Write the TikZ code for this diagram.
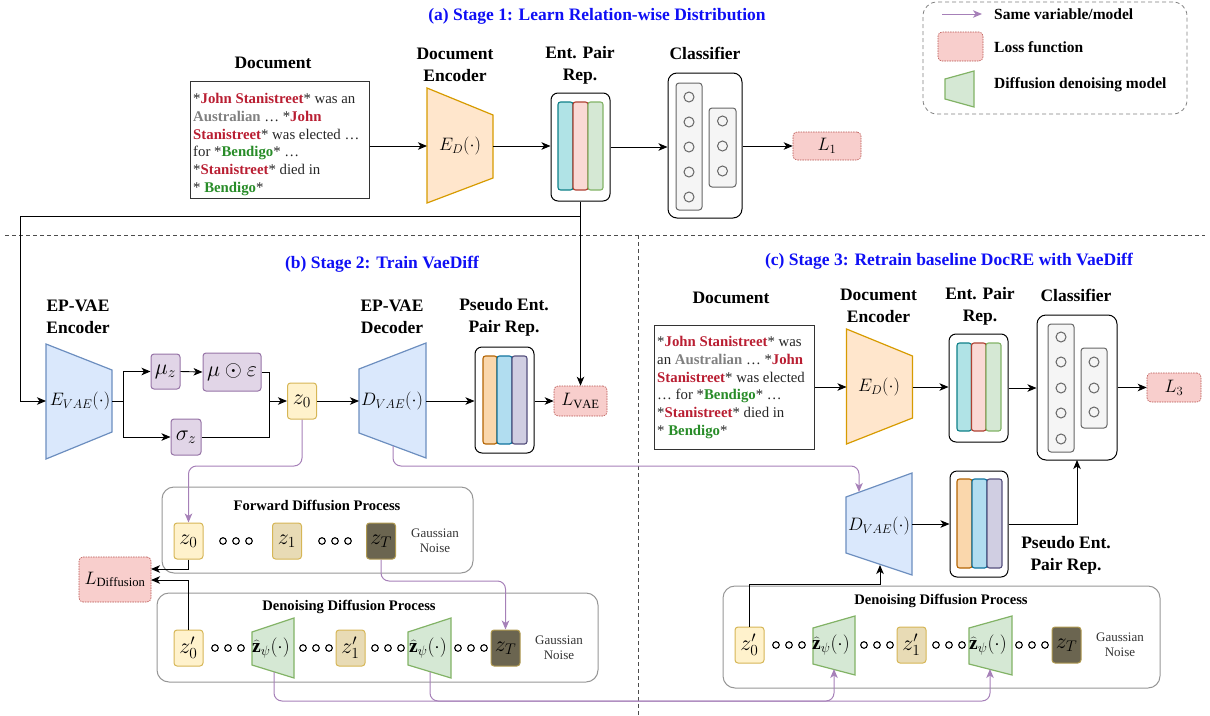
\RequirePackage{fix-cm}
\documentclass[tikz,border=0pt]{standalone}
\usepackage{fontspec}
\setmainfont{Liberation Serif}
\usetikzlibrary{arrows.meta,calc}
\definecolor{ttlblue}{RGB}{15,15,245}
\definecolor{nmred}{RGB}{185,30,50}
\definecolor{nmgray}{RGB}{128,128,128}
\definecolor{nmgreen}{RGB}{40,140,40}
\definecolor{orF}{HTML}{FFE6CC}\definecolor{orS}{HTML}{D79B00}
\definecolor{blF}{HTML}{DAE8FC}\definecolor{blS}{HTML}{6C8EBF}
\definecolor{grF}{HTML}{D5E8D4}\definecolor{grS}{HTML}{82B366}
\definecolor{puF}{HTML}{E1D5E7}\definecolor{puS}{HTML}{9673A6}
\definecolor{yeF}{HTML}{FFF2CC}\definecolor{yeS}{HTML}{D6B656}
\definecolor{taF}{HTML}{E8DBB5}
\definecolor{dkF}{HTML}{6B6550}\definecolor{dkS}{HTML}{B09A50}
\definecolor{lsF}{HTML}{F8CECC}\definecolor{lsS}{HTML}{B85450}
\definecolor{cyF}{HTML}{B0E3E6}\definecolor{cyS}{HTML}{0E8088}
\definecolor{rdF}{HTML}{FAD9D5}\definecolor{rdS}{HTML}{AE4132}
\definecolor{pOF}{HTML}{FAD7AC}\definecolor{pOS}{HTML}{B46504}
\definecolor{pBF}{HTML}{B1DDF0}\definecolor{pBS}{HTML}{10739E}
\definecolor{pPF}{HTML}{D0CEE2}\definecolor{pPS}{HTML}{56517E}
\definecolor{conn}{HTML}{A680B8}
\definecolor{clsF}{HTML}{F5F5F5}\definecolor{clsS}{HTML}{666666}
\definecolor{procS}{RGB}{150,150,150}
\newcommand{\jsR}[1]{\textbf{\textcolor{nmred}{#1}}}
\newcommand{\auG}[1]{\textbf{\textcolor{nmgray}{#1}}}
\newcommand{\bgG}[1]{\textbf{\textcolor{nmgreen}{#1}}}
\tikzset{
 arr/.style={draw=black,line width=0.9pt,-{Stealth[length=9pt,width=7.5pt,inset=2.5pt]}},
 ln/.style={draw=black,line width=0.9pt},
 parr/.style={draw=conn,line width=1pt,rounded corners=8pt,-{Stealth[length=9pt,width=7.5pt,inset=2.5pt]}},
 hdr/.style={font=\fontsize{17.5}{22}\selectfont\bfseries,align=center,inner sep=0pt},
 stg/.style={font=\fontsize{17.5}{20}\selectfont\bfseries,text=ttlblue,inner sep=0pt},
 mth/.style={font=\fontsize{18}{20}\selectfont,inner sep=0pt},
 zpl/.style={font=\fontsize{19.5}{21}\selectfont,inner sep=0pt},
 sbox/.style={rounded corners=3pt,line width=1pt,inner sep=0pt,font=\fontsize{22}{24}\selectfont},
 zbox/.style={sbox,draw=yeS,fill=yeF,minimum width=29pt,minimum height=36pt},
 z1box/.style={sbox,draw=yeS,fill=taF,minimum width=29pt,minimum height=36pt},
 zTbox/.style={sbox,draw=dkS,fill=dkF,minimum width=29pt,minimum height=36pt},
 pbox/.style={sbox,draw=puS,fill=puF},
 lbox/.style={sbox,font=\fontsize{18}{20}\selectfont,draw=lsS,fill=lsF,line width=0.6pt,dash pattern=on 1.5pt off 1pt,rounded corners=4pt},
 cont/.style={draw=black,line width=1pt,rounded corners=7pt,inner sep=0pt},
 bar/.style={line width=1.1pt,rounded corners=2.5pt},
 col/.style={draw=clsS,fill=clsF,line width=1pt,rounded corners=3pt},
 neu/.style={draw=clsS,line width=1pt},
 encO/.style={draw=orS,fill=orF,line width=1.2pt},
 encB/.style={draw=blS,fill=blF,line width=1.2pt},
 encG/.style={draw=grS,fill=grF,line width=1.2pt},
 proc/.style={draw=procS,line width=1pt,rounded corners=12pt,inner sep=0pt},
 ptl/.style={font=\fontsize{14.6}{16}\selectfont\bfseries,inner sep=0pt},
 gn/.style={font=\fontsize{13}{14.5}\selectfont,align=center,inner sep=0pt,text=black!80},
 doctext/.style={font=\fontsize{14.8}{17.8}\selectfont,align=left,inner sep=0pt,text=black!85},
 docbox/.style={draw=black!80,line width=1pt,inner sep=0pt},
 lgt/.style={font=\fontsize{15.5}{18}\selectfont\bfseries,inner sep=0pt,anchor=west},
 sepl/.style={draw=black!70,line width=0.9pt,dash pattern=on 4pt off 3pt},
 ooo/.pic={\foreach \q in {-13,0,13}{\draw[line width=1.1pt] (\q,0) circle[radius=3.3pt];}}
}
\begin{document}
\begin{tikzpicture}[x=1pt,y=-1pt]
\useasboundingbox (0,0) rectangle (1210,715);

% ---------- separators ----------
\draw[sepl] (5,235) -- (1205,235);
\draw[sepl] (638,235) -- (638,715);

% ---------- legend ----------
\node[draw=black!50,line width=0.8pt,dash pattern=on 4pt off 3pt,rounded corners=14pt,minimum width=264pt,minimum height=112pt,inner sep=0pt] (leg) at (1055,58) {};
\coordinate (lgA) at (942,14); \coordinate (lgB) at (982,14);
\draw[parr] (lgA) -- (lgB);
\node[lgt] (lg1) at (994,14) {Same variable/model};
\node[lbox,minimum width=45pt,minimum height=29pt] (lgL) at (960.5,46.5) {};
\node[lgt] (lg2) at (994,47) {Loss function};
\draw[encG] (945,79) -- (974,71) -- (974,107) -- (945,99) -- cycle;
\node[lgt] (lg3) at (994,85) {Diffusion denoising model};

% ---------- Stage 1 ----------
\node[stg] (st1) at (597,16) {(a) Stage 1: Learn Relation-wise Distribution};
\node[hdr] (h1doc) at (273,63) {Document};
\node[hdr] (h1enc) at (455,65) {Document\\Encoder};
\node[hdr] (h1ep) at (580,65) {Ent. Pair\\Rep.};
\node[hdr] (h1cls) at (705,53) {Classifier};

\node[docbox,minimum width=179pt,minimum height=117pt] (doc1) at (279.5,139.5) {};
\node[doctext,anchor=north west] (doc1t) at (193,93) {*\jsR{John Stanistreet}* was an\\
\auG{Australian} … *\jsR{John}\\
\jsR{Stanistreet}* was elected …\\
for *\bgG{Bendigo}* …\\
*\jsR{Stanistreet}* died in\\
* \bgG{Bendigo}*};

\draw[encO] (427,88) -- (493,115) -- (493,178) -- (427,203) -- cycle;
\node[mth] (enc1) at (460,146) {$E_D(\cdot)$};
\coordinate (enc1L) at (427,146); \coordinate (enc1R) at (493,146);

\node[cont,minimum width=59pt,minimum height=108pt] (ep1) at (580.5,147) {};
\draw[bar,draw=cyS,fill=cyF] (558,102) rectangle (573,190);
\draw[bar,draw=rdS,fill=rdF] (573,102) rectangle (588,190);
\draw[bar,draw=grS,fill=grF] (588,102) rectangle (603,190);

\node[cont,rounded corners=9pt,minimum width=74pt,minimum height=145pt] (cls1) at (705,145.5) {};
\draw[col] (676,83) rectangle (702,210);
\draw[col] (709,108) rectangle (736,187);
\foreach \yy in {97,122,147,172,197} \draw[neu] (689,\yy) circle[radius=5pt];
\foreach \yy in {121,146,171} \draw[neu] (722.5,\yy) circle[radius=5pt];

\node[lbox,minimum width=68pt,minimum height=28pt] (L1) at (827,146) {$L_1$};

\draw[arr] (doc1.east |- enc1L) -- (enc1L);
\draw[arr] (enc1R) -- (ep1.west |- enc1R);
\draw[arr] (ep1.east) -- (cls1.west |- ep1.east);
\draw[arr] (cls1.east |- L1.west) -- (L1.west);

% ---------- Stage 2 ----------
\node[stg] (st2) at (382,264) {(b) Stage 2: Train VaeDiff};
\node[hdr] (h2enc) at (78,317) {EP-VAE\\Encoder};
\node[hdr] (h2dec) at (392,317) {EP-VAE\\Decoder};
\node[hdr] (h2ps) at (504,317) {Pseudo Ent.\\Pair Rep.};

\draw[encB] (46,344) -- (112,370) -- (112,432) -- (46,459) -- cycle;
\node[mth] (encV) at (80,401) {$E_{VAE}(\cdot)$};
\coordinate (encVL) at (46,401); \coordinate (encVR) at (112,401);

\node[pbox,minimum width=29pt,minimum height=35pt] (mu) at (165.5,371.5) {$\mu_z$};
\node[pbox,minimum width=58pt,minimum height=38pt] (mue) at (232,372) {$\mu\odot\varepsilon$};
\node[pbox,minimum width=30pt,minimum height=36pt] (sig) at (186,437) {$\sigma_z$};
\node[zbox] (z0) at (302,401) {$z_0$};

\draw[encB] (359,369) -- (426,343) -- (426,458) -- (359,433) -- cycle;
\node[mth] (decV) at (392,401) {$D_{VAE}(\cdot)$};
\coordinate (decVL) at (359,401); \coordinate (decVR) at (426,401);
\coordinate (decVB) at (393,446);

\node[cont,minimum width=59pt,minimum height=106pt] (ps2) at (504.5,400) {};
\draw[bar,draw=pOS,fill=pOF] (483,356) rectangle (497,444);
\draw[bar,draw=pBS,fill=pBF] (497,356) rectangle (512,444);
\draw[bar,draw=pPS,fill=pPF] (512,356) rectangle (527,444);

\node[lbox,minimum width=53pt,minimum height=30pt] (LVAE) at (580.5,401) {$L_{\mathrm{VAE}}$};

% stage 1 -> stage 2 feed
\coordinate (br) at (580.5,216); \coordinate (tl) at (20,216);
\draw[ln] (ep1.south) -- (br);
\draw[arr] (br) -- (LVAE.north);
\draw[arr] (br) -- (tl) |- (encVL);

\coordinate (sp) at (123,401); \coordinate (jn) at (269,401);
\draw[ln] (encVR) -- (sp);
\draw[arr] (sp) |- (mu.west);
\draw[arr] (sp) |- (sig.west);
\draw[arr] (mu.east) -- (mue.west);
\draw[ln] (mue.east) -| (jn);
\draw[ln] (sig.east) -| (jn);
\draw[arr] (jn) -- (z0.west);
\draw[arr] (z0.east) -- (decVL);
\draw[arr] (decVR) -- (ps2.west |- decVR);
\draw[arr] (ps2.east |- LVAE.west) -- (LVAE.west);

% forward diffusion
\node[proc,minimum width=311pt,minimum height=86pt] (fwd) at (317.5,530) {};
\node[ptl] (fwdt) at (317,505) {Forward Diffusion Process};
\node[zbox] (fz0) at (188.5,541) {$z_0$};
\pic at (236,541) {ooo};
\node[z1box] (fz1) at (287,541) {$z_1$};
\pic at (335,541) {ooo};
\node[zTbox] (fzT) at (381,541) {$z_T$};
\node[gn] (fgn) at (435,541) {Gaussian\\Noise};

\node[lbox,minimum width=72pt,minimum height=45pt] (LD) at (115,579.5) {$L_{\mathrm{Diffusion}}$};

% denoising stage 2
\node[proc,minimum width=441pt,minimum height=89pt] (den2) at (377.5,637.5) {};
\node[ptl] (den2t) at (349,607) {Denoising Diffusion Process};
\node[zbox] (dz0) at (188.5,648) {$z'_0$};
\pic at (228,648) {ooo};
\draw[encG] (252,632) -- (294,618) -- (294,678) -- (252,665) -- cycle;
\node[zpl] (zp1) at (271,648) {$\widehat{\mathbf{z}}_\psi(\cdot)$};
\pic at (316,648) {ooo};
\node[z1box] (dz1) at (350.5,648) {$z'_1$};
\pic at (388,648) {ooo};
\draw[encG] (408,632) -- (451,618) -- (451,678) -- (408,665) -- cycle;
\node[zpl] (zp2) at (428,648) {$\widehat{\mathbf{z}}_\psi(\cdot)$};
\pic at (471,648) {ooo};
\node[zTbox] (dzT) at (505.5,648) {$z_T$};
\node[gn] (dgn) at (559,648) {Gaussian\\Noise};
\coordinate (zp1B) at (274,672); \coordinate (zp2B) at (430,672);

\coordinate (ld1) at (151,569); \coordinate (ld2) at (151,580);
\draw[arr] (fz0.south) |- (ld1);
\draw[arr] (dz0.north) |- (ld2);

% ---------- Stage 3 ----------
\node[stg] (st3) at (949,261) {(c) Stage 3: Retrain baseline DocRE with VaeDiff};
\node[hdr] (h3doc) at (731,298) {Document};
\node[hdr] (h3enc) at (878.5,306) {Document\\Encoder};
\node[hdr] (h3ep) at (980,306) {Ent. Pair\\Rep.};
\node[hdr] (h3cls) at (1076,295) {Classifier};

\node[docbox,minimum width=160pt,minimum height=124pt] (doc3) at (734.5,387) {};
\node[doctext,anchor=north west] (doc3t) at (657,336) {*\jsR{John Stanistreet}* was\\
an \auG{Australian} … *\jsR{John}\\
\jsR{Stanistreet}* was elected\\
… for *\bgG{Bendigo}* …\\
*\jsR{Stanistreet}* died in\\
* \bgG{Bendigo}*};

\draw[encO] (846.5,329) -- (912.5,356) -- (912.5,418) -- (846.5,444) -- cycle;
\node[mth] (enc3) at (879,387) {$E_D(\cdot)$};
\coordinate (enc3L) at (846.5,387); \coordinate (enc3R) at (912.5,387);

\node[cont,minimum width=59pt,minimum height=108pt] (ep3) at (978.5,388) {};
\draw[bar,draw=cyS,fill=cyF] (957,343) rectangle (971.5,431);
\draw[bar,draw=rdS,fill=rdF] (971.5,343) rectangle (986,431);
\draw[bar,draw=grS,fill=grF] (986,343) rectangle (1001,431);

\node[cont,rounded corners=9pt,minimum width=80pt,minimum height=145pt] (cls3) at (1077,387.5) {};
\draw[col] (1048,324) rectangle (1074,452);
\draw[col] (1081,348) rectangle (1107,428);
\foreach \yy in {337,362,388,413,439} \draw[neu] (1061,\yy) circle[radius=5pt];
\foreach \yy in {362,388,412} \draw[neu] (1094,\yy) circle[radius=5pt];

\node[lbox,minimum width=54pt,minimum height=29pt] (L3) at (1174,387.5) {$L_3$};

\draw[arr] (doc3.east |- enc3L) -- (enc3L);
\draw[arr] (enc3R) -- (ep3.west |- enc3R);
\draw[arr] (ep3.east) -- (cls3.west |- ep3.east);
\draw[arr] (cls3.east |- L3.west) -- (L3.west);

\draw[encB] (846,497) -- (912,473) -- (912,575) -- (846,553) -- cycle;
\node[mth] (dec3) at (879,526) {$D_{VAE}(\cdot)$};
\coordinate (dec3R) at (912,524); \coordinate (dec3T) at (859,492);
\coordinate (dec3B) at (880,565); \coordinate (dec3J) at (880,584);

\node[cont,minimum width=58pt,minimum height=106pt] (ps3) at (979,524) {};
\draw[bar,draw=pOS,fill=pOF] (957,479) rectangle (972,568);
\draw[bar,draw=pBS,fill=pBF] (972,479) rectangle (987,568);
\draw[bar,draw=pPS,fill=pPF] (987,479) rectangle (1002,568);
\node[hdr] (h3ps) at (1066,555) {Pseudo Ent.\\Pair Rep.};
\coordinate (cls3B) at (1077,460);

\draw[arr] (dec3R) -- (ps3.west |- dec3R);
\draw[arr] (ps3.east |- dec3R) -| (cls3B);

\node[proc,minimum width=437pt,minimum height=102pt] (den3) at (941.5,637) {};
\node[ptl] (den3t) at (941,601) {Denoising Diffusion Process};
\node[zbox] (d3z0) at (749.5,645) {$z'_0$};
\pic at (789,645) {ooo};
\draw[encG] (813,628) -- (855,616) -- (855,675) -- (813,664) -- cycle;
\node[zpl] (zp3a) at (831,645) {$\widehat{\mathbf{z}}_\psi(\cdot)$};
\pic at (877,645) {ooo};
\node[z1box] (d3z1) at (911.5,645) {$z'_1$};
\pic at (949,645) {ooo};
\draw[encG] (969,628) -- (1012,616) -- (1012,675) -- (969,664) -- cycle;
\node[zpl] (zp3b) at (988,645) {$\widehat{\mathbf{z}}_\psi(\cdot)$};
\pic at (1032,645) {ooo};
\node[zTbox] (d3zT) at (1066.5,645) {$z_T$};
\node[gn] (d3gn) at (1120,645) {Gaussian\\Noise};
\coordinate (zp3aB) at (834,669); \coordinate (zp3bB) at (990,669);

\draw[arr] (d3z0.north) |- (dec3J) -- (dec3B);

% ---------- purple "same variable" connectors ----------
\coordinate (pz0) at (302,466); \coordinate (pdec) at (393,466);
\coordinate (pzT) at (381,581); \coordinate (pb1) at (274,701); \coordinate (pb2) at (430,701);
\draw[parr] (z0.south) -- (pz0) -| (fz0.north);
\draw[parr] (decVB) -- (pdec) -| (dec3T);
\draw[parr] (fzT.south) -- (pzT) -| (dzT.north);
\draw[parr] (zp1B) -- (pb1) -| (zp3aB);
\draw[parr] (zp2B) -- (pb2) -| (zp3bB);
\end{tikzpicture}
\end{document}
